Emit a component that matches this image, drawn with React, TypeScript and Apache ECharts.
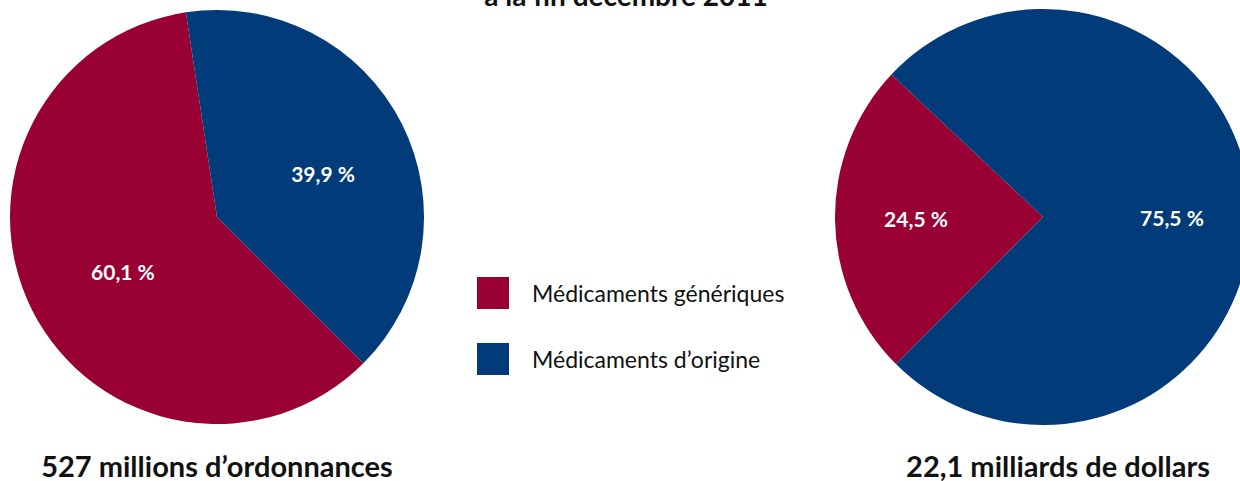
import React, { useEffect, useRef } from "react";
import * as echarts from "echarts";

const categories = ["Médicaments génériques", "Médicaments d’origine"];
const colors = ["#990033", "#013B7A"];
const ordonnancesShare = [60.1, 39.9];
const dollarsShare = [24.5, 75.5];
const titleText = "à la fin décembre 2011";
const leftCaption = "527 millions d’ordonnances";
const rightCaption = "22,1 milliards de dollars";

const FONT = "Lato, 'Noto Sans', sans-serif";

const fmt = (v: number) => v.toFixed(1).replace(".", ",") + " %";

export default function App() {
  const ref = useRef<HTMLDivElement>(null);
  useEffect(() => {
    if (!ref.current) return;
    const chart = echarts.init(ref.current, undefined, { renderer: "svg" });
    const leftOffsets = [[1, 6], [11, 5]];
    const rightOffsets = [[-20, 0], [22, 2]];
    const makeData = (vals: number[], offs: number[][]) =>
      vals.map((v, i) => ({
        name: categories[i],
        value: v,
        itemStyle: { color: colors[i] },
        label: { offset: offs[i] },
      }));
    const labelStyle = {
      show: true,
      position: "inside",
      color: "#ffffff",
      fontFamily: FONT,
      fontWeight: "bold",
      fontSize: 21,
      formatter: (p: any) => fmt(p.value),
    };
    const captionStyle = {
      fontFamily: FONT,
      fontWeight: "bold",
      fontSize: 29,
      lineHeight: 26,
      fill: "#111111",
      textAlign: "center",
      textVerticalAlign: "middle",
    };
    chart.setOption({
      animation: false,
      backgroundColor: "#ffffff",
      legend: {
        orient: "vertical",
        left: 477,
        top: 277,
        padding: 0,
        itemWidth: 32,
        itemHeight: 32,
        itemGap: 34,
        icon: "rect",
        selectedMode: false,
        data: categories,
        textStyle: {
          fontFamily: FONT,
          fontSize: 23,
          color: "#111111",
          padding: [0, 0, 0, 18],
        },
      },
      series: [
        {
          type: "pie",
          center: [217, 217],
          radius: 207,
          startAngle: 315,
          clockwise: true,
          silent: true,
          label: labelStyle,
          labelLine: { show: false },
          itemStyle: { borderWidth: 0 },
          data: makeData(ordonnancesShare, leftOffsets),
        },
        {
          type: "pie",
          center: [1043, 217],
          radius: 208,
          startAngle: 225,
          clockwise: true,
          silent: true,
          label: labelStyle,
          labelLine: { show: false },
          itemStyle: { borderWidth: 0 },
          data: makeData(dollarsShare, rightOffsets),
        },
      ],
      graphic: [
        {
          type: "text",
          x: 626,
          y: 9,
          style: {
            text: titleText,
            fontFamily: FONT,
            fontWeight: "bold",
            fontSize: 28,
            lineHeight: 28,
            fill: "#111111",
            textAlign: "center",
            textVerticalAlign: "bottom",
          },
        },
        {
          type: "text",
          x: 217,
          y: 465,
          style: { ...captionStyle, text: leftCaption },
        },
        {
          type: "text",
          x: 1058,
          y: 465,
          style: { ...captionStyle, text: rightCaption },
        },
      ],
    });
    return () => chart.dispose();
  }, []);
  return (
    <div
      ref={ref}
      style={{ position: "fixed", left: 0, top: 0, width: 1240, height: 481 }}
    />
  );
}
